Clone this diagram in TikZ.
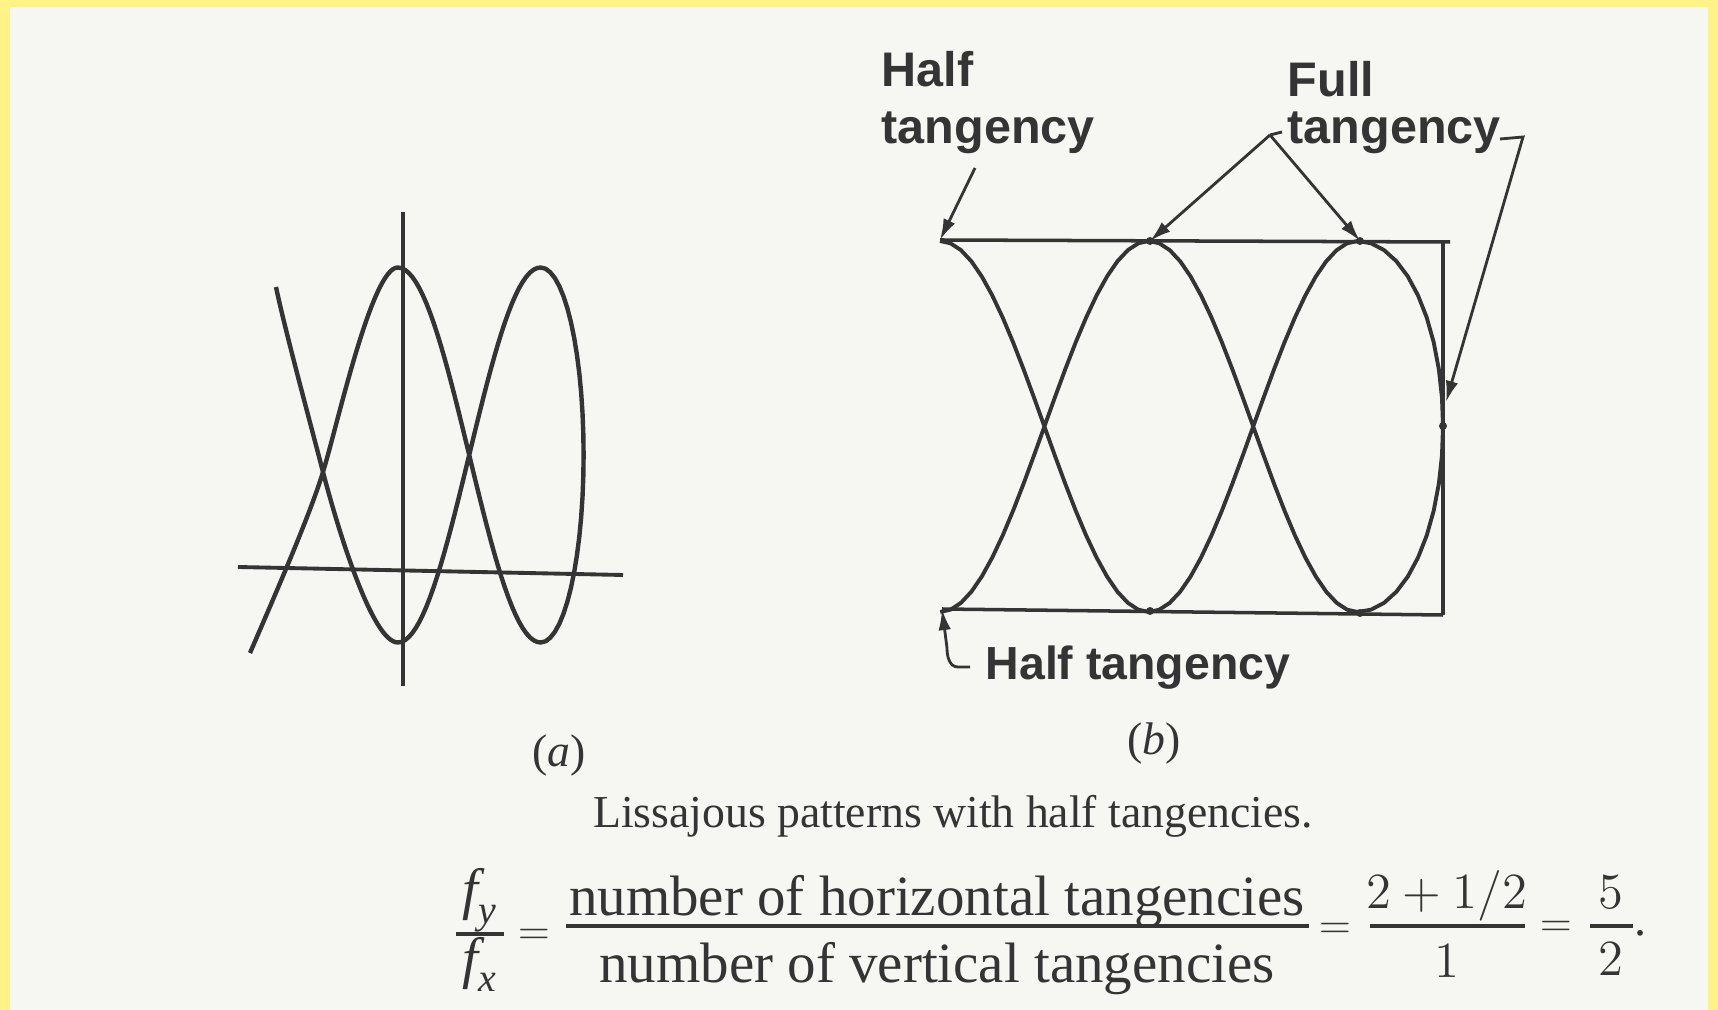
\documentclass[tikz,border=0pt]{standalone}
\usepackage{amsmath}
\usepackage{fontspec}
\setmainfont{Liberation Serif}
\newfontfamily\letterfont{Liberation Sans}
\usetikzlibrary{arrows.meta}
\definecolor{ink}{RGB}{52,52,52}
\definecolor{paper}{RGB}{246,246,243}
\definecolor{edge}{RGB}{255,243,135}

\begin{document}
\begin{tikzpicture}[x=0.01cm,y=-0.01cm,
  trace/.style={ink,line width=1.25pt,line join=round},
  frame/.style={ink,line width=1.0pt},
  bar/.style={ink,line width=0.9pt},
  pointer/.style={ink,line width=0.8pt,-{Latex[length=6pt,width=3.6pt]}},
  lbl/.style={ink,font=\letterfont\bfseries\fontsize{13.8}{16.2}\selectfont,inner sep=0pt},
  book/.style={ink,font=\fontsize{13}{15}\selectfont,inner sep=0pt},
  eqn/.style={ink,font=\fontsize{16.2}{18}\selectfont,inner sep=0pt},
  eqs/.style={ink,font=\fontsize{13.7}{16}\selectfont,inner sep=0pt},
  eqsign/.style={ink,font=\fontsize{12}{14}\selectfont,inner sep=0pt}]
% paper with the yellow edge
\fill[edge] (0,0) rectangle (1718,1010);
\fill[paper] (10,7) rectangle (1708,1010);
\useasboundingbox (0,0) rectangle (1718,1010);

% (a) axes
\draw[frame,line width=1.1pt] (238,567) -- (623,575);
\draw[frame,line width=1.1pt] (403,212) -- (403,686);
% (a) pattern, open ends on the left
\draw[trace] (250,653) .. controls (275,595) and (310,515) .. (323,472)
  .. controls (338,423) and (372,267.5) .. (397.8,267.5)
  -- plot[domain=0.4:0.8,samples=41] ({255+357*\x},{455+187.5*cos(450*\x)})
  -- plot[domain=0.8:1,samples=15] ({540.6+43*sin(450*(\x-0.8))},{455+187.5*cos(450*\x)})
  -- plot[domain=1:0.8,samples=15] ({540.6+43*sin(450*(\x-0.8))},{455-187.5*cos(450*\x)})
  -- plot[domain=0.8:0.4,samples=41] ({255+357*\x},{455-187.5*cos(450*\x)})
  .. controls (372,642.5) and (337,526) .. (323,472)
  .. controls (309,418) and (285,330) .. (276,287);

% (b) frame
\coordinate (tl) at (940,240);
\coordinate (bl) at (942,609);
\coordinate (top1) at (1150,241);
\coordinate (top2) at (1360,241);
\coordinate (side) at (1446,402);
\draw[frame] (tl) -- (1450,242);
\draw[frame] (bl) -- (1443,615);
\draw[frame] (1443,242) -- (1443,615);
% (b) pattern
\draw[trace,line width=1.1pt] plot[domain=0:0.8,samples=41] ({940+522*\x},{426.5-185.5*cos(450*\x)})
  -- plot[domain=0.8:1,samples=11] ({1357.6+85.4*sin(450*(\x-0.8))},{426.5-185.5*cos(450*\x)})
  -- plot[domain=1:0.8,samples=11] ({1357.6+85.4*sin(450*(\x-0.8))},{426.5+185.5*cos(450*\x)})
  -- plot[domain=0.8:0,samples=41] ({940+522*\x},{426.5+185.5*cos(450*\x)});
\foreach \p in {(1150,241),(1360,241),(1150,611),(1360,613),(1443,426)}
  \fill[ink] \p circle (4);

% labels and pointers
\node[lbl,align=left,anchor=north west] (halftop) at (881,51) {Half\\tangency};
\node[lbl,align=left,anchor=north west] (full) at (1287,61) {Full\\[-2.8pt]tangency};
\node[lbl,font=\letterfont\bfseries\fontsize{13.2}{15}\selectfont,anchor=base west] (halfbot) at (985,680) {Half tangency};
\coordinate (hts) at (975,168);
\coordinate (apex) at (1270,135);
\coordinate (hook) at (1523,137);
\draw[pointer] (hts) -- (tl);
\draw[pointer] (apex) -- (top1);
\draw[pointer] (apex) -- (top2);
\draw[ink,line width=0.8pt] (apex) -- (1282,132);
\draw[pointer] (1500,139) -- (hook) -- (side);
\draw[pointer] (970,667) -- (958,667) to[out=180,in=-90] (947,648) -- (bl);

% captions
\node[book] (capa) at (559,756) {(\textit{a})};
\node[book] (capb) at (1154,744) {(\textit{b})};
\node[book] (title) at (953,816) {Lissajous patterns with half tangencies.};

% fy/fx
\node[eqn,anchor=base] (fy) at (480,909) {$\textit{f}_{\textit{y}}$};
\node[eqn,anchor=base] (fx) at (480,977) {$\textit{f}_{\textit{x}}$};
\draw[bar] (456,934) -- (504,934);
\node[eqsign] (eqa) at (534,937) {$=$};
% counts
\node[eqn,anchor=base] (numh) at (937,915) {number of horizontal tangencies};
\node[eqn,anchor=base] (numv) at (937,982) {number of vertical tangencies};
\draw[bar] (566,926) -- (1309,926);
\node[eqsign] (eqb) at (1335,931) {$=$};
% 2 + 1/2 over 1
\node[eqs,anchor=base] (twohalf) at (1447,908) {$2+1/2$};
\node[eqs,anchor=base] (one) at (1447,977) {$1$};
\draw[bar] (1370,926) -- (1525,926);
\node[eqsign] (eqc) at (1556,929) {$=$};
% 5/2
\node[eqs,anchor=base] (five) at (1611,908) {$5$};
\node[eqs,anchor=base] (two) at (1611,975) {$2$};
\draw[bar] (1590,926) -- (1633,926);
\node[eqs] (dot) at (1641,933) {.};
\end{tikzpicture}
\end{document}
